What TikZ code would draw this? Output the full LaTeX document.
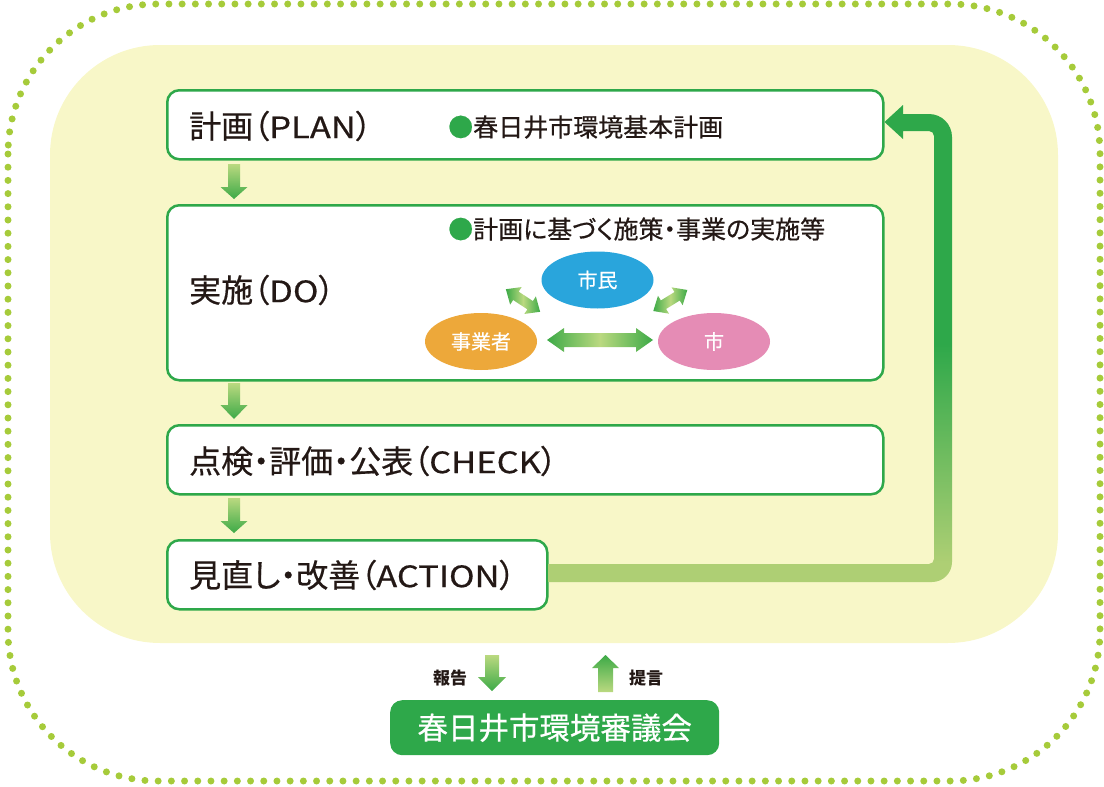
\documentclass[tikz,border=0pt]{standalone}
\usepackage{fontspec}
\usepackage{graphicx}
\setmainfont{Noto Sans CJK JP}[RawFeature=+palt]
\newfontfamily\medfont{Noto Sans CJK JP}[RawFeature=+palt, FakeBold=0.5]
\usetikzlibrary{shapes.geometric}
\definecolor{boxgreen}{HTML}{2EA84A}
\definecolor{dotgreen}{HTML}{A6CB3A}
\definecolor{bgyellow}{HTML}{F8F7C8}
\definecolor{ink}{HTML}{231815}
\definecolor{alight}{HTML}{BAD980}
\definecolor{adark}{HTML}{3DAA47}
\definecolor{blight}{HTML}{AECF74}
\definecolor{bdark}{HTML}{2EA84A}
\definecolor{cblue}{HTML}{29A5DC}
\definecolor{corange}{HTML}{EDA83A}
\definecolor{cpink}{HTML}{E58CB5}
\pgfdeclareverticalshading{bigarrow}{100bp}{color(0bp)=(blight); color(27bp)=(blight); color(50bp)=(bdark); color(100bp)=(bdark)}
\newcommand\lat[1]{{\fontsize{29.5}{32}\selectfont\scalebox{1.17}[1]{#1}}}
% down arrow: x, ytop, yheadbase, ytip, shafthalf, headhalf
\newcommand\downarr[6]{%
  \shade[top color=alight, bottom color=adark] (#1-#5,#2) -- (#1+#5,#2) -- (#1+#5,#3) -- (#1+#6,#3) -- (#1,#4) -- (#1-#6,#3) -- (#1-#5,#3) -- cycle;}
\newcommand\uparr[6]{%
  \shade[top color=adark, bottom color=alight] (#1-#5,#2) -- (#1+#5,#2) -- (#1+#5,#3) -- (#1+#6,#3) -- (#1,#4) -- (#1-#6,#3) -- (#1-#5,#3) -- cycle;}
% double arrow: cx, cy, angle, halflen, headlen, headhalf, shafthalf
\newcommand\dblarr[7]{%
  \begin{scope}[shift={(#1,#2)}, rotate=#3]
  \shade[left color=adark, right color=adark, middle color=alight]
    (-#4,0) -- (-#4+#5,-#6) -- (-#4+#5,-#7) -- (#4-#5,-#7) -- (#4-#5,-#6) -- (#4,0)
    -- (#4-#5,#6) -- (#4-#5,#7) -- (-#4+#5,#7) -- (-#4+#5,#6) -- cycle;
  \end{scope}}
\begin{document}
\begin{tikzpicture}[x=1pt,y=-1pt,
  box/.style={draw=boxgreen, line width=2.5pt, fill=white, rounded corners=12pt, inner sep=0pt, anchor=north west},
  title/.style={anchor=west, font=\medfont\fontsize{32}{36}\selectfont, text=ink, inner sep=0pt},
  sub/.style={anchor=west, font=\medfont\fontsize{25}{28}\selectfont, text=ink, inner sep=0pt},
  actor/.style={ellipse, minimum width=112pt, minimum height=57pt, inner sep=0pt, text=white, font=\medfont\fontsize{20}{22}\selectfont},
  lbl/.style={font=\bfseries\fontsize{17}{20}\selectfont, text=ink, inner sep=0pt},
]
\useasboundingbox (0,0) rectangle (1104,787);
% outer dotted frame
\draw[dotgreen, line width=7pt, line cap=round, dash pattern=on 0pt off 13.2pt, rounded corners=150pt] (8,4) rectangle (1100,781);
% yellow field
\fill[bgyellow, rounded corners=110pt] (50,45) rectangle (1058,643);

% boxes
\node[box, minimum width=716pt, minimum height=69pt] (plan) at (166,89) {};
\node[box, minimum width=716pt, minimum height=175pt] (do) at (166,204) {};
\node[box, minimum width=716pt, minimum height=69pt] (check) at (166,424) {};
\node[box, minimum width=380pt, minimum height=69pt] (act) at (166,539) {};

% titles
\node[title] (tplan) at (189,126) {計画（\lat{PLAN}）};
\node[sub] (splan) at (448,127) {{\color{boxgreen}●}春日井市環境基本計画};
\node[sub] (sdo) at (448,229) {{\color{boxgreen}●}計画に基づく施策・事業の実施等};
\node[title] (tdo) at (189,290) {実施（\lat{DO}）};
\node[title] (tcheck) at (189,461) {点検・評価・公表（\lat{CHECK}）};
\node[title] (tact) at (189,575) {見直し・改善（\lat{ACTION}）};

% actors
\node[actor, fill=cblue] (shimin) at (597.5,280) {市民};
\node[actor, fill=corange] (jigyo) at (481,341.5) {事業者};
\node[actor, fill=cpink] (shi) at (714,341.5) {市};
\dblarr{600}{340}{0}{53}{17}{12}{7}
\dblarr{523}{300.5}{-33.4}{20.5}{12}{10.5}{5}
\dblarr{670.3}{300.5}{31.7}{20}{12}{10.5}{5}

% arrows between boxes
\downarr{234}{164}{187}{199}{6}{13.5}
\downarr{234}{383}{405}{419}{6}{13.5}
\downarr{234}{498}{521}{533}{6}{13.5}

% big feedback arrow from ACTION to PLAN
\shade[shading=bigarrow]
  (act.east |- 0,564) -- (929,564) arc[start angle=90, end angle=0, radius=5]
  -- (934,136) arc[start angle=0, end angle=-90, radius=5]
  -- (903,131) -- (903,139) -- (plan.east |- 0,122) -- (903,105) -- (903,114)
  -- (929,114) arc[start angle=-90, end angle=0, radius=23]
  -- (952,562) arc[start angle=0, end angle=90, radius=20]
  -- (act.east |- 0,582) -- cycle;

% council
\node[fill=boxgreen, rounded corners=12pt, minimum width=329pt, minimum height=55pt, anchor=north west, inner sep=0pt, text=white, font=\medfont\fontsize{30.5}{34}\selectfont] (council) at (390,700) {春日井市環境審議会};
\node[lbl] (hokoku) at (450,678) {報告};
\node[lbl] (teigen) at (646,678) {提言};
\downarr{492}{655}{677}{691}{7}{14}
\uparr{605.5}{692}{668}{655}{7.5}{13.5}
\end{tikzpicture}
\end{document}
